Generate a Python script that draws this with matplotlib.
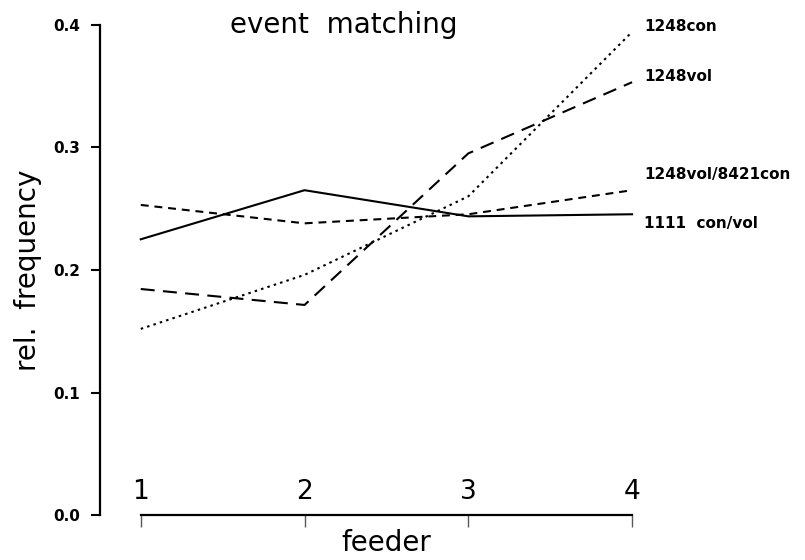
import numpy as np
import matplotlib
matplotlib.use('Agg')
import matplotlib.pyplot as plt

# feeder number on the x axis
feeder = [1, 2, 3, 4]
feeder_labels = ['1', '2', '3', '4']

# relative frequency per feeder
con1248 = [0.152, 0.196, 0.260, 0.394]
vol1248 = [0.1845, 0.1715, 0.295, 0.353]
vol1248_con8421 = [0.253, 0.238, 0.2454, 0.265]
conval1111 = [0.225, 0.265, 0.2437, 0.2454]

series_names = ['1248con', '1248vol', '1248vol/8421con', '1111  con/vol']
yticks = [0.0, 0.1, 0.2, 0.3, 0.4]
ytick_labels = ['0.0', '0.1', '0.2', '0.3', '0.4']

# where the series names sit (data units), next to the line ends
label_x = 4.073
label_y = [0.3983, 0.358, 0.2775, 0.2376]

fig = plt.figure(figsize=(8.05, 5.6), dpi=100)
ax = fig.add_axes([0.1242, 0.0796, 0.661, 0.8766])

lw = 1.5
ax.plot(feeder, con1248, color='black', lw=lw, linestyle=(0, (1.2, 2.0)), clip_on=False)
ax.plot(feeder, vol1248, color='black', lw=lw, linestyle=(0, (6.7, 4.0)), clip_on=False)
ax.plot(feeder, vol1248_con8421, color='black', lw=lw, linestyle=(0, (3.8, 2.8)), clip_on=False)
ax.plot(feeder, conval1111, color='black', lw=lw, linestyle='-', clip_on=False)

for name, y in zip(series_names, label_y):
    ax.text(label_x, y, name, ha='left', va='center', fontsize=11, fontweight='bold')

ax.set_xlim(0.751, 4.0)
ax.set_ylim(0.0, 0.4)

ax.spines['top'].set_visible(False)
ax.spines['right'].set_visible(False)
ax.spines['left'].set_bounds(0.0, 0.4)
ax.spines['bottom'].set_bounds(1, 4)
ax.spines['left'].set_linewidth(1.6)
ax.spines['bottom'].set_linewidth(1.6)

ax.set_yticks(yticks)
ax.set_yticklabels(ytick_labels, fontsize=11, fontweight='bold')
ax.tick_params(axis='y', direction='out', length=6.5, width=1.5, pad=8)

ax.set_xticks(feeder)
ax.set_xticklabels(feeder_labels, fontsize=19)
ax.tick_params(axis='x', direction='out', length=8.5, width=1.0, color='0.35', pad=-35)

ax.set_ylabel('rel.  frequency', fontsize=20)
ax.yaxis.set_label_coords(-0.135, 0.5)
ax.yaxis.label.set_va('center')
ax.set_xlabel('feeder', fontsize=20)
ax.xaxis.set_label_coords(0.5376, -0.056)
ax.xaxis.label.set_va('center')

fig.text(344 / 805, 1 - 25 / 560, 'event  matching', ha='center', va='center', fontsize=20)

plt.savefig('out.png', dpi=100)
